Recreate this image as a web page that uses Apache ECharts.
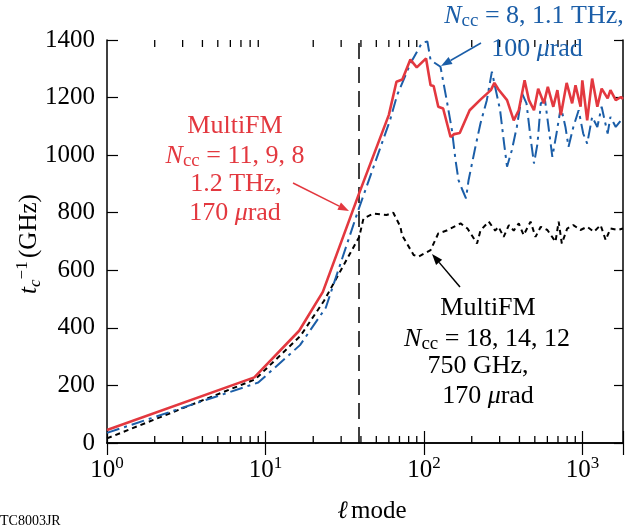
<!DOCTYPE html>
<html>
<head>
<meta charset="utf-8">
<script src="https://cdn.jsdelivr.net/npm/echarts@6/dist/echarts.min.js"></script>
<style>
  html, body { margin: 0; padding: 0; background: #fff; }
  #chart { width: 626px; height: 527px; }
</style>
</head>
<body>
<div id="chart"></div>
<script>
// ---- data ----
const redL = [1, 8.5, 16.3, 23, 39, 60, 67, 73, 82, 90, 103, 110, 115, 123, 132, 147, 155, 168, 194, 227, 264, 278, 295, 334, 368, 396, 431, 459, 494, 525, 570, 604, 654, 694, 730, 794, 860, 903, 972, 997, 1070, 1150, 1240, 1320, 1440, 1500, 1620, 1750, 1800]
const redV = [45, 228, 390, 525, 868, 1140, 1255, 1263, 1332, 1305, 1336, 1243, 1240, 1168, 1162, 1063, 1073, 1077, 1156, 1193, 1226, 1251, 1228, 1191, 1121, 1156, 1260, 1191, 1156, 1231, 1180, 1237, 1168, 1226, 1139, 1251, 1180, 1243, 1168, 1260, 1121, 1266, 1168, 1231, 1197, 1226, 1191, 1202, 1195]

const blueL = [1, 9, 16.5, 24, 38.5, 61, 67.6, 82, 97, 105, 110, 127, 139, 150, 158, 165, 175, 184, 191, 211, 227, 249, 268, 281, 302, 320, 334, 358, 385, 416, 443, 470, 494, 520, 545, 580, 610, 645, 685, 730, 780, 816, 875, 945, 1010, 1070, 1150, 1240, 1320, 1440, 1500, 1620, 1750, 1800]
const blueV = [35, 210, 340, 470, 809, 1121, 1208, 1318, 1390, 1395, 1330, 1307, 1191, 1087, 983, 913, 878, 850, 913, 1029, 1110, 1191, 1290, 1237, 1156, 1040, 960, 1017, 1098, 1214, 1180, 1060, 971, 1040, 1180, 1190, 1098, 994, 1075, 1168, 1098, 1029, 1098, 1156, 1075, 1040, 1133, 1098, 1168, 1075, 1133, 1098, 1121, 1133]

const blackL = [1, 8.6, 16.6, 23.4, 39, 41.5, 48, 58, 64, 71, 72.6, 86, 92, 110, 123, 139, 170, 188, 216, 227, 256, 281, 295, 318, 343, 368, 396, 425, 470, 505, 545, 600, 675, 707, 740, 800, 875, 970, 1070, 1180, 1300, 1400, 1500, 1660, 1800]
const blackV = [16, 221, 372, 494, 716, 780, 797, 792, 800, 751, 722, 653, 647, 670, 728, 738, 763, 745, 693, 738, 769, 738, 751, 716, 757, 738, 763, 722, 769, 716, 751, 740, 699, 769, 693, 745, 757, 740, 751, 734, 757, 705, 745, 740, 745]

const cutoffL = 39
const xMin = 1
const xMax = 1800
const yMin = 0
const yMax = 1400
const yStep = 200

const RED = '#e3383f'
const BLUE = '#1b5ea8'
const FONT = '"Liberation Serif", "DejaVu Serif", serif'

// minor log ticks 2..9 per decade
const minorTicks = []
for (let d = 1; d <= 1000; d *= 10) {
    for (let k = 2; k <= 9; k++) {
        if (k * d < xMax) minorTicks.push(k * d)
    }
}

function pairs(xs, ys) {
    return xs.map((x, i) => [x, ys[i]])
}

// simple arrow: line + head
function arrow(x1, y1, x2, y2, color) {
    const a = Math.atan2(y2 - y1, x2 - x1)
    const len = 11
    const w = 4
    const bx = x2 - len * Math.cos(a)
    const by = y2 - len * Math.sin(a)
    return {
        type: 'group',
        children: [
            { type: 'line', shape: { x1: x1, y1: y1, x2: bx, y2: by }, style: { stroke: color, lineWidth: 1.5 } },
            {
                type: 'polygon',
                shape: {
                    points: [
                        [x2, y2],
                        [bx + w * Math.sin(a), by - w * Math.cos(a)],
                        [bx - w * Math.sin(a), by + w * Math.cos(a)]
                    ]
                },
                style: { fill: color }
            }
        ]
    }
}

const txtRich = {
    n: { fontFamily: FONT, fontSize: 26, lineHeight: 30 },
    i: { fontFamily: FONT, fontSize: 26, fontStyle: 'italic', lineHeight: 30 },
    sub: { fontFamily: FONT, fontSize: 19, lineHeight: 10, verticalAlign: 'bottom' }
}

function label(x, y, text, color) {
    return {
        type: 'text',
        x: x,
        y: y,
        style: {
            text: text,
            fill: color,
            font: '26px ' + FONT,
            align: 'center',
            verticalAlign: 'middle',
            rich: txtRich
        },
        z: 100
    }
}

const chart = echarts.init(document.getElementById('chart'))

const option = {
    animation: false,
    backgroundColor: '#fff',
    grid: { left: 107, right: 3, top: 40, bottom: 84, containLabel: false },
    xAxis: [
        {
            type: 'log',
            logBase: 10,
            min: xMin,
            max: xMax,
            axisLine: { lineStyle: { color: '#000', width: 1.5 } },
            axisTick: { inside: true, length: 12, lineStyle: { color: '#000', width: 1.2 } },
            splitLine: { show: false },
            axisLabel: {
                margin: 12,
                color: '#000',
                formatter: function(v) {
                    const p = Math.log10(v)
                    if (Math.abs(p - Math.round(p)) > 1e-6) return ''
                    return '{b|10}{sup|' + Math.round(p) + '}'
                },
                rich: {
                    b: { fontFamily: FONT, fontSize: 25, lineHeight: 30, color: '#000' },
                    sup: { fontFamily: FONT, fontSize: 17, lineHeight: 14, verticalAlign: 'top', color: '#000' }
                }
            }
        },
        {
            type: 'log',
            logBase: 10,
            min: xMin,
            max: xMax,
            position: 'top',
            axisLine: { lineStyle: { color: '#000', width: 1.5 } },
            axisTick: { inside: true, length: 12, lineStyle: { color: '#000', width: 1.2 } },
            axisLabel: { show: false },
            splitLine: { show: false }
        }
    ],
    yAxis: [
        {
            type: 'value',
            min: yMin,
            max: yMax,
            interval: yStep,
            axisLine: { show: true, lineStyle: { color: '#000', width: 1.5 } },
            axisTick: { show: true, inside: true, length: 11, lineStyle: { color: '#000', width: 1.2 } },
            splitLine: { show: false },
            axisLabel: {
                margin: 12,
                color: '#000',
                fontFamily: FONT,
                fontSize: 25,
                formatter: v => String(v)
            }
        },
        {
            type: 'value',
            min: yMin,
            max: yMax,
            interval: yStep,
            position: 'right',
            axisLine: { show: true, lineStyle: { color: '#000', width: 1.5 } },
            axisTick: { show: true, inside: true, length: 9, lineStyle: { color: '#000', width: 1.2 } },
            axisLabel: { show: false },
            splitLine: { show: false }
        }
    ],
    series: [
        {
            name: 'black',
            type: 'line',
            data: pairs(blackL, blackV),
            symbol: 'none',
            lineStyle: { color: '#000', width: 2, type: [5, 4] },
            z: 3,
            markLine: {
                silent: true,
                symbol: 'none',
                label: { show: false },
                lineStyle: { color: '#000', width: 1.5, type: [16, 8] },
                data: [{ xAxis: cutoffL }]
            }
        },
        {
            name: 'blue',
            type: 'line',
            data: pairs(blueL, blueV),
            symbol: 'none',
            lineStyle: { color: BLUE, width: 2, type: [13, 5, 3, 5] },
            z: 4
        },
        {
            name: 'red',
            type: 'line',
            data: pairs(redL, redV),
            symbol: 'none',
            lineStyle: { color: RED, width: 2.6 },
            z: 5
        }
    ],
    graphic: [
        // y axis title
        {
            type: 'text',
            x: 29,
            y: 244,
            rotation: Math.PI / 2,
            style: {
                text: '{i|t}{sub|c}{sup|\u22121} {n|(GHz)}',
                fill: '#000',
                align: 'center',
                verticalAlign: 'middle',
                rich: {
                    i: { fontFamily: FONT, fontSize: 25, fontStyle: 'italic', lineHeight: 30 },
                    n: { fontFamily: FONT, fontSize: 25, lineHeight: 30 },
                    sub: { fontFamily: FONT, fontSize: 17, fontStyle: 'italic', lineHeight: 10, verticalAlign: 'bottom' },
                    sup: { fontFamily: FONT, fontSize: 17, lineHeight: 14, verticalAlign: 'top' }
                }
            }
        },
        // x axis title
        {
            type: 'text',
            x: 372,
            y: 511,
            style: {
                text: '{i|\u2113} {n|mode}',
                fill: '#000',
                align: 'center',
                verticalAlign: 'middle',
                rich: {
                    i: { fontFamily: FONT, fontSize: 25, fontStyle: 'italic' },
                    n: { fontFamily: FONT, fontSize: 25 }
                }
            }
        },
        {
            type: 'text',
            x: 0,
            y: 521,
            style: { text: 'TC8003JR', fill: '#000', font: '14px ' + FONT, align: 'left', verticalAlign: 'middle' }
        },
        // red annotation
        label(235, 126, '{n|MultiFM}', RED),
        label(235, 156, '{i|N}{sub|cc}{n| = 11, 9, 8}', RED),
        label(236, 184, '{n|1.2 THz,}', RED),
        label(235, 213, '{n|170 }{i|\u03bc}{n|rad}', RED),
        arrow(293, 183, 349, 211, RED),
        // blue annotation
        label(534, 16, '{i|N}{sub|cc}{n| = 8, 1.1 THz,}', BLUE),
        label(537, 49, '{n|100 }{i|\u03bc}{n|rad}', BLUE),
        arrow(481, 43, 441, 66, BLUE),
        // black annotation
        label(488, 308, '{n|MultiFM}', '#000'),
        label(487, 339, '{i|N}{sub|cc}{n| = 18, 14, 12}', '#000'),
        label(478, 366, '{n|750 GHz,}', '#000'),
        label(488, 396, '{n|170 }{i|\u03bc}{n|rad}', '#000'),
        arrow(460, 287, 432, 254, '#000')
    ]
}

chart.setOption(option)

// minor log ticks on bottom and top axes, placed through the axis scale
const yBot = chart.convertToPixel({ yAxisIndex: 0 }, yMin)
const yTop = chart.convertToPixel({ yAxisIndex: 0 }, yMax)
const tickEls = []
minorTicks.forEach(v => {
    const x = chart.convertToPixel({ xAxisIndex: 0 }, v)
    tickEls.push({ type: 'line', shape: { x1: x, y1: yBot, x2: x, y2: yBot - 7 }, style: { stroke: '#000', lineWidth: 1.3 }, z: 50 })
    tickEls.push({ type: 'line', shape: { x1: x, y1: yTop, x2: x, y2: yTop + 7 }, style: { stroke: '#000', lineWidth: 1.3 }, z: 50 })
})
chart.setOption({ graphic: option.graphic.concat(tickEls) })
</script>
</body>
</html>
